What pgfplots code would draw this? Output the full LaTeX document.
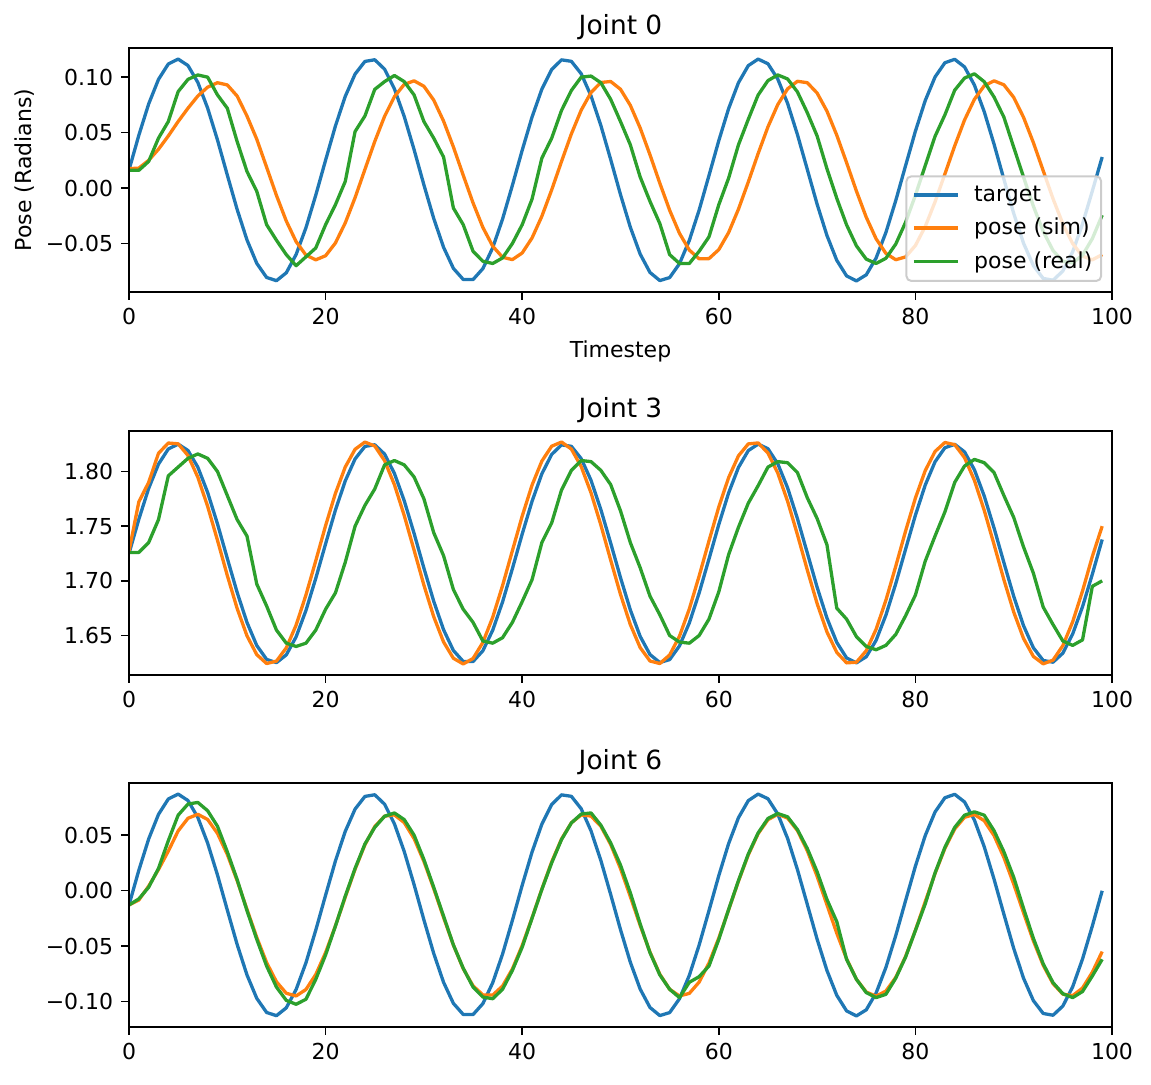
\documentclass[border=0pt]{standalone}
\usepackage{fontspec}
\setmainfont{DejaVu Sans}
\usepackage{pgfplots}
\usepackage{pgfplotstable}
\pgfplotsset{compat=1.18}

\definecolor{tblue}{HTML}{1F77B4}
\definecolor{torange}{HTML}{FF7F0E}
\definecolor{tgreen}{HTML}{2CA02C}

% t, target, pose (sim), pose (real)
\pgfplotstableread{
t tg sm rl
0 0.0163 0.0175 0.0160
1 0.0476 0.0180 0.0160
2 0.0758 0.0250 0.0240
3 0.0980 0.0350 0.0450
4 0.1119 0.0470 0.0600
5 0.1163 0.0600 0.0870
6 0.1105 0.0720 0.0980
7 0.0953 0.0830 0.1020
8 0.0721 0.0910 0.1000
9 0.0434 0.0950 0.0840
10 0.0118 0.0930 0.0720
11 -0.0192 0.0830 0.0420
12 -0.0467 0.0650 0.0150
13 -0.0679 0.0440 -0.0030
14 -0.0806 0.0188 -0.0330
15 -0.0835 -0.0066 -0.0470
16 -0.0764 -0.0297 -0.0600
17 -0.0599 -0.0483 -0.0700
18 -0.0358 -0.0604 -0.0620
19 -0.0064 -0.0647 -0.0540
20 0.0252 -0.0610 -0.0330
21 0.0560 -0.0495 -0.0150
22 0.0827 -0.0314 0.0060
23 0.1028 -0.0086 0.0510
24 0.1142 0.0168 0.0650
25 0.1157 0.0420 0.0890
26 0.1072 0.0647 0.0960
27 0.0895 0.0824 0.1015
28 0.0645 0.0935 0.0960
29 0.0347 0.0967 0.0840
30 0.0029 0.0918 0.0600
31 -0.0274 0.0793 0.0450
32 -0.0534 0.0604 0.0280
33 -0.0724 0.0371 -0.0180
34 -0.0824 0.0116 -0.0330
35 -0.0825 -0.0134 -0.0570
36 -0.0726 -0.0355 -0.0660
37 -0.0538 -0.0524 -0.0680
38 -0.0280 -0.0624 -0.0630
39 0.0024 -0.0645 -0.0500
40 0.0341 -0.0585 -0.0330
41 0.0640 -0.0450 -0.0100
42 0.0892 -0.0254 0.0270
43 0.1069 -0.0016 0.0450
44 0.1156 0.0240 0.0700
45 0.1143 0.0488 0.0880
46 0.1031 0.0702 0.1000
47 0.0832 0.0862 0.1010
48 0.0565 0.0952 0.0950
49 0.0258 0.0961 0.0800
50 -0.0059 0.0891 0.0600
51 -0.0353 0.0746 0.0390
52 -0.0595 0.0542 0.0100
53 -0.0761 0.0300 -0.0120
54 -0.0834 0.0044 -0.0320
55 -0.0807 -0.0200 -0.0600
56 -0.0682 -0.0408 -0.0680
57 -0.0472 -0.0559 -0.0680
58 -0.0198 -0.0638 -0.0570
59 0.0113 -0.0636 -0.0440
60 0.0428 -0.0555 -0.0150
61 0.0717 -0.0401 0.0090
62 0.0950 -0.0190 0.0390
63 0.1104 0.0055 0.0620
64 0.1163 0.0311 0.0839
65 0.1121 0.0552 0.0969
66 0.0983 0.0753 0.1020
67 0.0763 0.0895 0.0984
68 0.0482 0.0963 0.0867
69 0.0169 0.0950 0.0680
70 -0.0145 0.0857 0.0470
71 -0.0427 0.0694 0.0175
72 -0.0651 0.0477 -0.0092
73 -0.0792 0.0229 -0.0332
74 -0.0837 -0.0027 -0.0521
75 -0.0782 -0.0263 -0.0641
76 -0.0631 -0.0457 -0.0680
77 -0.0400 -0.0589 -0.0633
78 -0.0113 -0.0646 -0.0505
79 0.0202 -0.0621 -0.0309
80 0.0513 -0.0518 -0.0065
81 0.0789 -0.0347 0.0203
82 0.1002 -0.0124 0.0467
83 0.1130 0.0127 0.0660
84 0.1161 0.0381 0.0883
85 0.1092 0.0614 0.0992
86 0.0929 0.0800 0.1030
87 0.0689 0.0922 0.0959
88 0.0396 0.0967 0.0821
89 0.0080 0.0931 0.0640
90 -0.0228 0.0818 0.0368
91 -0.0497 0.0638 0.0099
92 -0.0699 0.0410 -0.0163
93 -0.0815 0.0157 -0.0391
94 -0.0831 -0.0096 -0.0563
95 -0.0748 -0.0323 -0.0661
96 -0.0574 -0.0501 -0.0675
97 -0.0324 -0.0613 -0.0605
98 -0.0026 -0.0647 -0.0456
99 0.0280 -0.0600 -0.0244
}\jointzero

\pgfplotstableread{
t tg sm rl
0 1.7250 1.7270 1.7260
1 1.7563 1.7722 1.7260
2 1.7845 1.7900 1.7350
3 1.8067 1.8166 1.7560
4 1.8206 1.8260 1.7960
5 1.8250 1.8253 1.8040
6 1.8192 1.8146 1.8120
7 1.8040 1.7948 1.8160
8 1.7808 1.7681 1.8120
9 1.7521 1.7371 1.8000
10 1.7205 1.7049 1.7780
11 1.6895 1.6748 1.7560
12 1.6620 1.6498 1.7410
13 1.6408 1.6325 1.6970
14 1.6282 1.6244 1.6770
15 1.6252 1.6266 1.6550
16 1.6323 1.6387 1.6430
17 1.6488 1.6595 1.6400
18 1.6729 1.6870 1.6430
19 1.7023 1.7184 1.6550
20 1.7339 1.7505 1.6740
21 1.7647 1.7800 1.6890
22 1.7914 1.8041 1.7170
23 1.8115 1.8203 1.7500
24 1.8229 1.8269 1.7690
25 1.8244 1.8233 1.7840
26 1.8159 1.8099 1.8060
27 1.7982 1.7879 1.8100
28 1.7732 1.7597 1.8060
29 1.7434 1.7281 1.7950
30 1.7116 1.6961 1.7750
31 1.6813 1.6672 1.7440
32 1.6553 1.6441 1.7230
33 1.6363 1.6292 1.6920
34 1.6263 1.6240 1.6740
35 1.6262 1.6290 1.6620
36 1.6361 1.6437 1.6450
37 1.6549 1.6667 1.6430
38 1.6807 1.6956 1.6480
39 1.7111 1.7275 1.6620
40 1.7428 1.7592 1.6810
41 1.7727 1.7875 1.7010
42 1.7979 1.8095 1.7350
43 1.8156 1.8231 1.7530
44 1.8243 1.8269 1.7830
45 1.8230 1.8205 1.8010
46 1.8118 1.8045 1.8100
47 1.7919 1.7805 1.8090
48 1.7652 1.7511 1.8010
49 1.7345 1.7190 1.7880
50 1.7029 1.6876 1.7640
51 1.6734 1.6600 1.7350
52 1.6492 1.6390 1.7120
53 1.6326 1.6267 1.6860
54 1.6253 1.6244 1.6690
55 1.6280 1.6322 1.6500
56 1.6405 1.6494 1.6440
57 1.6615 1.6743 1.6430
58 1.6889 1.7044 1.6500
59 1.7200 1.7365 1.6650
60 1.7515 1.7676 1.6900
61 1.7804 1.7944 1.7240
62 1.8037 1.8143 1.7490
63 1.8191 1.8252 1.7710
64 1.8250 1.8261 1.7870
65 1.8208 1.8169 1.8040
66 1.8070 1.7985 1.8090
67 1.7850 1.7727 1.8080
68 1.7569 1.7422 1.7990
69 1.7256 1.7100 1.7760
70 1.6942 1.6793 1.7570
71 1.6660 1.6533 1.7330
72 1.6437 1.6346 1.6750
73 1.6295 1.6250 1.6650
74 1.6250 1.6256 1.6490
75 1.6306 1.6361 1.6400
76 1.6456 1.6557 1.6370
77 1.6687 1.6823 1.6410
78 1.6974 1.7133 1.6510
79 1.7289 1.7455 1.6680
80 1.7600 1.7757 1.6870
81 1.7876 1.8008 1.7180
82 1.8089 1.8183 1.7410
83 1.8217 1.8265 1.7630
84 1.8248 1.8245 1.7900
85 1.8179 1.8126 1.8050
86 1.8016 1.7919 1.8110
87 1.7776 1.7645 1.8080
88 1.7483 1.7332 1.7990
89 1.7167 1.7011 1.7780
90 1.6859 1.6715 1.7580
91 1.6590 1.6473 1.7310
92 1.6388 1.6309 1.7070
93 1.6272 1.6241 1.6760
94 1.6256 1.6275 1.6600
95 1.6339 1.6408 1.6450
96 1.6515 1.6626 1.6410
97 1.6763 1.6907 1.6460
98 1.7061 1.7223 1.6950
99 1.7378 1.7500 1.7000
}\jointthree

\pgfplotstableread{
t tg sm rl
0 -0.0130 -0.0130 -0.0130
1 0.0183 -0.0085 -0.0075
2 0.0465 0.0040 0.0030
3 0.0687 0.0190 0.0200
4 0.0826 0.0356 0.0450
5 0.0870 0.0538 0.0680
6 0.0812 0.0652 0.0780
7 0.0660 0.0688 0.0795
8 0.0428 0.0641 0.0720
9 0.0141 0.0516 0.0580
10 -0.0175 0.0326 0.0350
11 -0.0485 0.0090 0.0100
12 -0.0760 -0.0169 -0.0180
13 -0.0972 -0.0423 -0.0440
14 -0.1099 -0.0649 -0.0680
15 -0.1128 -0.0822 -0.0870
16 -0.1057 -0.0926 -0.0990
17 -0.0892 -0.0950 -0.1025
18 -0.0651 -0.0892 -0.0980
19 -0.0357 -0.0757 -0.0800
20 -0.0041 -0.0559 -0.0580
21 0.0267 -0.0318 -0.0320
22 0.0534 -0.0059 -0.0050
23 0.0735 0.0193 0.0200
24 0.0849 0.0413 0.0420
25 0.0864 0.0577 0.0570
26 0.0779 0.0671 0.0670
27 0.0602 0.0683 0.0700
28 0.0352 0.0613 0.0640
29 0.0054 0.0469 0.0500
30 -0.0264 0.0263 0.0280
31 -0.0567 0.0018 0.0030
32 -0.0827 -0.0242 -0.0230
33 -0.1017 -0.0491 -0.0490
34 -0.1117 -0.0704 -0.0700
35 -0.1118 -0.0859 -0.0870
36 -0.1019 -0.0941 -0.0960
37 -0.0831 -0.0942 -0.0975
38 -0.0573 -0.0861 -0.0890
39 -0.0269 -0.0707 -0.0720
40 0.0048 -0.0495 -0.0510
41 0.0347 -0.0246 -0.0250
42 0.0599 0.0014 0.0010
43 0.0776 0.0259 0.0250
44 0.0863 0.0465 0.0460
45 0.0850 0.0611 0.0610
46 0.0738 0.0682 0.0690
47 0.0539 0.0672 0.0700
48 0.0272 0.0580 0.0590
49 -0.0035 0.0416 0.0430
50 -0.0352 0.0198 0.0230
51 -0.0646 -0.0054 -0.0020
52 -0.0888 -0.0314 -0.0300
53 -0.1054 -0.0555 -0.0560
54 -0.1127 -0.0754 -0.0760
55 -0.1100 -0.0890 -0.0890
56 -0.0975 -0.0950 -0.0965
57 -0.0765 -0.0927 -0.0827
58 -0.0491 -0.0825 -0.0776
59 -0.0181 -0.0653 -0.0680
60 0.0135 -0.0428 -0.0440
61 0.0424 -0.0173 -0.0170
62 0.0657 0.0085 0.0090
63 0.0811 0.0322 0.0330
64 0.0870 0.0513 0.0520
65 0.0828 0.0639 0.0650
66 0.0690 0.0688 0.0695
67 0.0470 0.0654 0.0665
68 0.0189 0.0541 0.0550
69 -0.0124 0.0360 0.0380
70 -0.0438 0.0129 0.0170
71 -0.0720 -0.0127 -0.0080
72 -0.0944 -0.0384 -0.0280
73 -0.1085 -0.0616 -0.0620
74 -0.1130 -0.0799 -0.0800
75 -0.1075 -0.0915 -0.0920
76 -0.0924 -0.0952 -0.0965
77 -0.0693 -0.0906 -0.0935
78 -0.0406 -0.0783 -0.0790
79 -0.0091 -0.0594 -0.0600
80 0.0220 -0.0358 -0.0360
81 0.0496 -0.0100 -0.0120
82 0.0709 0.0155 0.0160
83 0.0837 0.0381 0.0390
84 0.0868 0.0556 0.0570
85 0.0799 0.0661 0.0680
86 0.0636 0.0686 0.0710
87 0.0396 0.0630 0.0680
88 0.0103 0.0496 0.0540
89 -0.0213 0.0299 0.0350
90 -0.0521 0.0059 0.0120
91 -0.0790 -0.0200 -0.0160
92 -0.0992 -0.0453 -0.0430
93 -0.1108 -0.0673 -0.0660
94 -0.1124 -0.0839 -0.0830
95 -0.1041 -0.0934 -0.0930
96 -0.0867 -0.0947 -0.0965
97 -0.0617 -0.0879 -0.0910
98 -0.0319 -0.0736 -0.0770
99 -0.0002 -0.0550 -0.0620
}\jointsix

\pgfplotsset{
  jstyle/.style={
    scale only axis, width=491.5pt, height=122pt,
    xmin=0, xmax=100,
    xtick={0,20,40,60,80,100}, xticklabels={0,20,40,60,80,100},
    tick align=outside, tick pos=left,
    major tick length=3.85pt,
    every tick/.style={black, line width=0.88pt},
    axis line style={line width=0.88pt},
    tick label style={font=\fontsize{11}{13}\selectfont, inner sep=0pt},
    xticklabel style={anchor=north, yshift=-3.85pt},
    yticklabel style={anchor=east, xshift=-3.85pt},
    every axis title/.style={at={(axis description cs:0.5,1)}, anchor=base,
      yshift=6.6pt, inner sep=0pt, font=\fontsize{13.2}{15}\selectfont},
    label style={font=\fontsize{11}{13}\selectfont},
    axis on top,
    every axis plot/.append style={line width=1.65pt, line join=round, mark=none},
  }
}

\begin{document}
\begin{tikzpicture}
\path[use as bounding box] (0pt,0pt) rectangle (575.5pt,-542.5pt);

\begin{axis}[jstyle, at={(64.5pt,-24pt)}, anchor=north west,
  ymin=-0.0937, ymax=0.1263,
  ytick={-0.05,0,0.05,0.10}, yticklabels={−0.05,0.00,0.05,0.10},
  title={Joint 0},
  xlabel={Timestep},
  xlabel style={at={(axis description cs:0.5,0)}, anchor=base, yshift=-33pt, inner sep=0pt},
  ylabel={Pose (Radians)},
  ylabel style={at={(axis description cs:-0.1058,0.5)}, anchor=center, inner sep=0pt},
  legend cell align=left,
  legend image code/.code={\draw[#1] (0pt,0pt) -- (22pt,0pt);},
  legend style={at={(0.99,0.041)}, anchor=south east,
    draw=black!20, line width=1pt, rounded corners=2.5pt,
    fill=white, fill opacity=0.8, draw opacity=1, text opacity=1,
    font=\fontsize{11}{13}\selectfont,
    inner xsep=2.9pt, inner ysep=3.2pt, row sep=4pt, column sep=5.8pt,
    nodes={inner sep=1.5pt}},
]
\addplot[tblue] table[x=t, y=tg] {\jointzero};
\addplot[torange] table[x=t, y=sm] {\jointzero};
\addplot[tgreen] table[x=t, y=rl] {\jointzero};
\legend{target, pose (sim), pose (real)}
\end{axis}

\begin{axis}[jstyle, at={(64.5pt,-215.5pt)}, anchor=north west,
  ymin=1.6139, ymax=1.8370,
  ytick={1.65,1.70,1.75,1.80}, yticklabels={1.65,1.70,1.75,1.80},
  title={Joint 3},
]
\addplot[tblue] table[x=t, y=tg] {\jointthree};
\addplot[torange] table[x=t, y=sm] {\jointthree};
\addplot[tgreen] table[x=t, y=rl] {\jointthree};
\end{axis}

\begin{axis}[jstyle, at={(64.5pt,-391.5pt)}, anchor=north west,
  ymin=-0.1230, ymax=0.0970,
  ytick={-0.10,-0.05,0,0.05}, yticklabels={−0.10,−0.05,0.00,0.05},
  title={Joint 6},
]
\addplot[tblue] table[x=t, y=tg] {\jointsix};
\addplot[torange] table[x=t, y=sm] {\jointsix};
\addplot[tgreen] table[x=t, y=rl] {\jointsix};
\end{axis}
\end{tikzpicture}
\end{document}
